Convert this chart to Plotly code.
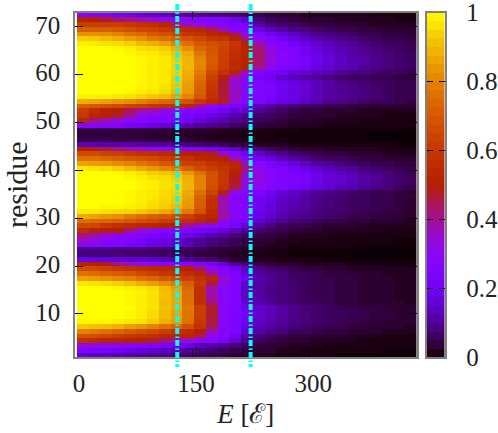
import plotly.graph_objects as go
import math

energies = [10 + 15 * i for i in range(29)]
residues = [72.5 - i for i in range(72)]
marker_energies = [131, 225]
x_ticks = [0, 150, 300]
y_ticks = [10, 20, 30, 40, 50, 60, 70]
cbar_ticks = [0, 0.2, 0.4, 0.6, 0.8, 1]
cbar_labels = ["0", "0.2", "0.4", "0.6", "0.8", "1"]

# percent occupancy, top row of the picture first
rows = [
[27,26,24,22,20,17,15,14,12,11,10,9,8,7,6,5,4,3,3,2,2,2,2,2,2,1,1,1,1],
[52,50,47,43,42,38,35,32,30,28,26,25,24,20,15,8,6,5,4,3,3,3,2,2,2,2,2,1,1],
[62,62,62,62,60,58,56,52,42,35,30,27,26,24,20,11,8,7,6,5,4,4,3,3,3,2,2,2,2],
[72,72,72,70,68,65,64,60,58,55,53,46,38,28,25,18,14,11,9,8,7,6,5,5,4,4,3,3,3],
[83,83,82,80,76,74,70,68,65,60,58,53,50,44,32,25,20,17,14,11,9,8,7,6,5,5,4,4,3],
[93,92,90,88,85,82,78,76,72,68,65,60,58,52,40,30,25,21,17,14,12,10,9,8,7,6,5,5,4],
[98,97,96,95,93,90,88,85,80,76,70,67,65,60,50,38,28,25,21,18,15,13,11,10,8,7,6,6,5],
[100,100,100,99,98,96,95,93,88,82,74,69,64,58,52,42,33,26,24,20,17,14,12,11,9,8,7,6,5],
[100,100,100,100,99,98,97,95,92,87,78,70,63,56,52,43,34,27,25,21,18,15,13,11,10,9,8,7,6],
[100,100,100,100,100,99,98,97,93,89,80,71,63,56,52,43,34,27,25,22,19,16,14,12,11,9,8,7,6],
[100,100,100,100,100,99,98,97,94,89,81,71,62,55,52,43,33,27,25,22,19,16,14,12,11,9,8,7,6],
[100,100,100,100,100,99,98,97,94,89,80,70,62,55,50,40,31,26,24,21,18,15,13,12,10,9,8,7,6],
[100,100,100,100,100,99,98,97,94,88,78,66,58,52,36,26,23,20,17,15,13,12,10,9,8,7,6,6,5],
[100,100,100,100,100,99,98,97,93,87,76,63,49,36,28,23,20,15,13,11,10,8,7,6,6,5,5,4,4],
[100,100,100,100,100,99,98,97,93,86,74,61,47,35,27,25,23,19,17,15,13,11,9,8,7,6,6,5,5],
[100,100,100,100,100,99,98,96,92,85,73,60,47,35,27,25,24,20,18,16,13,11,10,9,8,7,6,5,5],
[100,100,100,100,99,98,97,95,91,84,72,59,47,36,27,25,24,20,18,16,13,11,10,9,8,7,6,5,5],
[98,98,98,97,96,94,92,90,86,80,70,58,46,36,27,25,23,20,18,15,13,11,10,9,8,7,6,5,5],
[88,87,86,84,82,79,76,74,72,68,60,54,48,35,26,24,21,18,16,14,12,10,9,8,7,6,6,5,4],
[72,70,68,66,64,62,60,58,56,53,40,30,27,24,20,14,11,9,8,7,6,5,5,4,4,3,3,3,3],
[62,57,52,50,44,40,38,33,30,28,26,24,20,17,15,10,8,6,5,4,4,3,3,3,2,2,2,2,2],
[60,52,50,47,40,30,28,26,25,22,20,18,15,12,10,7,6,5,4,3,3,3,2,2,2,2,1,1,1],
[53,42,38,33,29,27,26,24,22,20,17,14,12,10,8,6,5,4,3,3,2,2,2,2,1,1,1,1,1],
[27,27,26,25,22,20,18,16,14,12,10,9,8,6,5,4,3,3,2,2,2,1,1,1,1,1,1,1,1],
[4.5,4.5,4.5,4,4,4,3.5,3.5,3,3,2.5,2.5,2,2,1.5,1.5,1,1,1,0.5,0.5,0.5,0.5,0.5,0.5,0.5,0.5,0.5,0.5],
[4,4,4,4,3.5,3.5,3,3,2.5,2.5,2,2,1.5,1.5,1,1,1,0.5,0.5,0.5,0.5,0.5,0.5,0.5,0.3,0.3,0.3,0.3,0.3],
[4.5,4.5,4.5,4,4,4,3.5,3.5,3,3,2.5,2,2,1.5,1.5,1,1,1,0.5,0.5,0.5,0.5,0.5,0.5,0.5,0.3,0.3,0.3,0.3],
[13,13,12,12,12,11,11,10,9,8,7,6,5,4,3,2,2,2,1,1,1,1,1,1,1,1,1,0.5,0.5],
[50,48,45,42,38,34,30,28,27,26,24,22,18,15,10,8,6,5,4,3,3,2,2,2,2,2,1,1,1],
[66,66,64,62,60,58,57,55,53,50,50,48,36,27,20,15,11,9,7,6,5,4,4,3,3,3,2,2,2],
[76,76,74,72,70,68,66,62,60,58,53,52,50,37,27,20,17,13,11,9,7,6,6,5,4,4,3,3,3],
[86,85,84,82,80,77,74,70,67,63,62,58,55,53,38,28,23,20,16,13,11,10,8,7,6,5,5,4,4],
[97,96,95,93,90,87,84,80,77,72,66,62,58,53,42,31,26,24,21,18,15,13,11,10,8,7,6,5,5],
[100,100,100,99,98,96,93,92,90,84,76,68,60,50,36,33,27,25,23,21,18,15,14,12,10,9,8,6,5],
[100,100,100,100,99,98,96,95,93,88,80,68,60,48,33,33,27,25,24,22,19,16,15,13,11,10,8,7,6],
[100,100,100,100,100,99,98,96,95,89,80,68,60,48,33,33,27,25,24,22,19,16,15,13,11,10,8,7,6],
[100,100,100,100,100,99,98,96,95,89,80,67,58,46,30,30,26,24,22,20,17,15,13,12,10,9,8,6,5],
[100,100,100,100,99,98,97,95,94,87,76,64,49,30,27,25,20,16,14,12,10,9,8,7,6,5,5,4,3],
[100,100,100,100,99,98,97,95,93,86,73,58,38,28,26,21,18,15,13,11,9,8,7,6,6,5,5,4,4],
[100,100,100,100,99,98,96,94,92,85,72,57,38,28,26,20,18,14,12,11,9,8,7,6,6,5,5,4,3],
[100,100,99,99,98,97,95,93,90,84,71,57,38,28,26,20,17,14,12,11,9,8,7,6,6,5,5,4,3],
[97,97,96,95,94,92,90,87,84,78,68,55,38,28,25,19,16,13,11,10,8,7,7,6,5,5,4,4,3],
[88,86,84,82,78,75,72,70,66,62,57,53,40,28,26,18,15,12,10,9,8,7,6,5,5,4,4,3,3],
[76,75,74,72,70,67,65,62,60,56,53,50,30,26,22,15,12,10,8,7,6,5,5,4,4,3,3,3,2],
[66,65,60,57,55,53,52,50,48,40,34,30,27,22,17,11,8,6,5,5,4,3,3,3,2,2,2,2,2],
[56,52,50,50,42,35,30,28,27,25,22,20,17,13,10,7,6,5,4,3,3,2,2,2,2,2,1,1,1],
[42,38,33,28,27,25,24,22,20,18,15,12,10,8,6,5,4,3,2,2,2,2,1,1,1,1,1,1,1],
[36,33,28,27,25,23,20,18,15,12,10,8,7,5,4,3,3,2,2,1,1,1,1,1,1,1,1,0.5,0.5],
[27,27,26,25,22,20,18,16,15,13,10,8,7,5,4,3,2,2,1,1,1,1,1,1,0.5,0.5,0.5,0.5,0.5],
[9,9,9,8,8,8,7,7,6,6,5,4,3,3,2,1.5,1,1,0.5,0.5,0.5,0.5,0.5,0.5,0.3,0.3,0.3,0.3,0.3],
[8,8,8,8,7,7,7,6,6,5,4,4,3,2,2,1.5,1,1,0.5,0.5,0.5,0.5,0.5,0.3,0.3,0.3,0.3,0.3,0.3],
[18,17,16,16,15,15,14,13,12,10,8,7,5,3,3,2,1.5,1,1,1,1,0.5,0.5,0.5,0.5,0.5,0.5,0.5,0.5],
[52,50,48,42,36,33,30,28,27,27,25,22,16,10,7,5,4,3,3,2,2,2,2,1,1,1,1,1,1],
[66,65,63,60,58,56,55,53,52,50,43,30,25,20,13,9,7,6,5,4,4,3,3,2,2,2,2,2,2],
[76,75,73,71,69,66,63,60,58,56,53,40,27,24,17,11,9,8,6,6,5,4,4,3,3,3,2,2,2],
[86,85,83,81,79,76,74,70,66,62,58,53,35,25,20,12,10,8,7,6,5,5,4,4,3,3,3,2,2],
[97,96,95,93,91,88,85,82,78,72,60,46,32,26,15,11,9,8,7,6,5,5,4,4,3,3,3,2,2],
[100,100,100,99,98,97,95,90,85,74,57,38,28,25,14,11,9,8,7,6,5,5,4,4,3,3,3,2,2],
[100,100,100,100,99,98,96,91,87,76,56,38,28,25,14,11,9,8,7,6,5,5,4,4,3,3,3,2,2],
[100,100,100,100,99,98,96,91,87,76,56,38,28,25,14,11,9,8,7,6,5,5,4,4,3,3,3,2,2],
[100,100,100,100,99,98,96,90,87,76,57,42,28,25,16,12,10,8,7,6,6,5,4,4,3,3,3,3,2],
[100,100,100,100,100,98,96,91,87,78,62,47,28,24,19,15,13,11,9,8,7,6,5,5,4,4,3,3,3],
[100,100,100,100,99,98,95,90,86,77,62,47,28,24,20,15,13,11,9,8,7,6,6,5,5,4,4,3,3],
[100,100,100,100,99,98,95,90,86,77,62,47,28,24,20,15,13,11,9,8,7,6,6,5,5,4,4,3,3],
[99,99,99,98,97,96,93,88,85,76,60,46,28,24,20,14,12,10,9,8,7,6,5,5,4,4,3,3,3],
[92,91,90,88,85,83,80,76,73,68,58,45,28,24,18,13,11,9,8,7,6,5,5,4,4,3,3,3,2],
[80,78,76,74,71,68,66,62,58,55,50,37,28,24,15,11,9,8,6,6,5,4,4,3,3,3,2,2,2],
[68,67,65,62,60,58,56,54,53,52,45,30,27,20,12,8,6,5,4,4,3,3,3,2,2,2,1,1,1],
[57,55,52,52,50,50,48,43,38,35,30,27,23,16,10,6,5,4,3,3,2,2,2,2,1,1,1,1,1],
[33,32,30,28,27,26,24,22,20,18,14,12,10,8,6,4,3,3,2,2,2,1,1,1,1,1,1,1,1],
[24,23,22,20,18,17,15,14,12,10,8,7,6,5,4,3,3,2,2,1,1,1,1,1,1,1,0.5,0.5,0.5],
[15,14,14,13,12,11,10,10,8,7,6,5,4,3,3,2,2,1,1,1,1,1,0.5,0.5,0.5,0.5,0.5,0.5,0.5],
]
z = [[v / 100 for v in r] for r in rows]


def palette(t):
    r = math.sqrt(t)
    g = t ** 3
    b = max(0.0, math.sin(2 * math.pi * t))
    return f"rgb({round(255*r)},{round(255*g)},{round(255*b)})"


colorscale = [[i / 200, palette(i / 200)] for i in range(201)]
N_LEVELS = 40
levels = [(i + 0.5) / N_LEVELS for i in range(N_LEVELS)]

W, H = 498, 433
FONT = "Liberation Serif"
INK = "#222222"
FRAME = "#808080"

fig = go.Figure()
fig.add_trace(go.Heatmap(x=energies, y=residues, z=z, coloraxis="coloraxis", zsmooth=False))
fig.add_trace(go.Heatmap(x=[0, 1], y=levels, z=[[v, v] for v in levels], coloraxis="coloraxis",
                         xaxis="x2", yaxis="y2", zsmooth=False))

shapes = [dict(type="line", xref="x", yref="paper", x0=e, x1=e, y0=1 - 4 / H, y1=1 - 367 / H,
               layer="above", line=dict(color="#00ffff", width=4, dash="6px,2.5px,1.5px,2px"))
          for e in marker_energies]

fig.update_layout(
    width=W, height=H, margin=dict(l=0, r=0, t=0, b=0), autosize=False,
    paper_bgcolor="white", plot_bgcolor="white", showlegend=False, shapes=shapes,
    font=dict(family=FONT, size=25, color=INK),
    coloraxis=dict(colorscale=colorscale, cmin=0, cmax=1, showscale=False),
    xaxis=dict(domain=[75 / W, 416.5 / W], range=[0, 437.5], tickvals=x_ticks, ticks="inside",
               ticklen=8, tickwidth=1, tickcolor="black", showgrid=False, zeroline=False,
               showline=True, linecolor=FRAME, linewidth=1.5, mirror="allticks",
               ticklabelshift=4, ticklabelstandoff=3, automargin=False, ticklabeloverflow="allow",
               title=dict(text="<i>E</i> [ℰ]", font=dict(size=27), standoff=8)),
    yaxis=dict(domain=[1 - 357 / H, 1 - 12.5 / H], range=[1, 73], tickvals=y_ticks, ticks="inside",
               ticklen=8, tickwidth=1, tickcolor="black", showgrid=False, zeroline=False,
               showline=True, linecolor=FRAME, linewidth=1.5, mirror="allticks",
               ticklabelshift=-2, ticklabelstandoff=8, automargin=False, ticklabeloverflow="allow",
               title=dict(text="residue", font=dict(size=30), standoff=17)),
    xaxis2=dict(domain=[427 / W, 444.5 / W], range=[0, 1], anchor="y2", showticklabels=False,
                ticks="", showgrid=False, zeroline=False, showline=True, linecolor=FRAME,
                linewidth=1.5, mirror=True, automargin=False),
    yaxis2=dict(domain=[1 - 357 / H, 1 - 12.5 / H], range=[0, 1], anchor="x2", side="right",
                tickvals=cbar_ticks, ticktext=cbar_labels, ticks="inside", ticklen=6, tickwidth=1,
                tickcolor="black", showgrid=False, zeroline=False, showline=True, linecolor=FRAME,
                linewidth=1.5, mirror="allticks", ticklabelstandoff=15, automargin=False,
                ticklabeloverflow="allow"),
)
fig.write_html("out.html", config=dict(displayModeBar=False),
               post_script="document.body.style.margin='0';")
